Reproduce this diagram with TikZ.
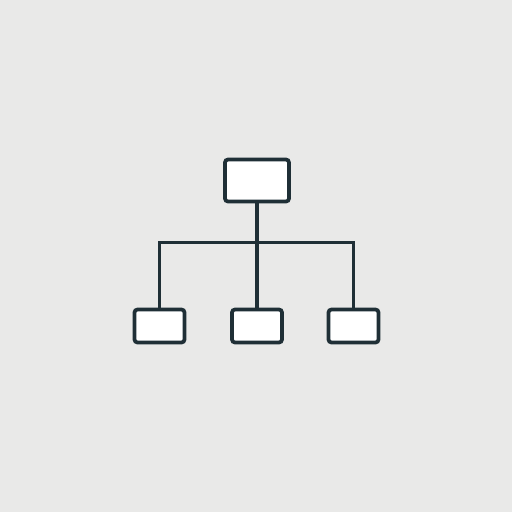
\documentclass[tikz,border=0pt]{standalone}
\usepackage{tikz}
\usetikzlibrary{positioning}
\definecolor{bgcol}{HTML}{E9E9E8}
\definecolor{inkcol}{HTML}{1F2F36}
\tikzset{
    unit/.style={draw=inkcol, fill=white, line width=0.075cm, rounded corners=0.06cm,
        inner sep=0pt},
    headunit/.style={unit, minimum width=1.28cm, minimum height=0.84cm},
    subunit/.style={unit, minimum width=1.0cm, minimum height=0.66cm},
    link/.style={draw=inkcol, line width=0.075cm},
}

\begin{document}
\begin{tikzpicture}[x=0.02cm, y=-0.02cm]
% \draw[step=0.5cm, very thin, transparent] (0,0) grid (512,512);
\fill[bgcol] (0,0) rectangle (512,512);
\useasboundingbox (0,0) rectangle (512,512);
\node[headunit] (head) at (257,180.5) {};
\node[subunit] (left) at (159.5,326) {};
\node[subunit] (middle) at (257,326) {};
\node[subunit] (right) at (353.5,326) {};
\coordinate (bus) at (257,242.5);
\draw[link] (head.south) -- (bus);
\draw[link] (left.north) |- (bus) -| (right.north);
\draw[link] (bus) -- (middle.north);
\end{tikzpicture}
\end{document}
